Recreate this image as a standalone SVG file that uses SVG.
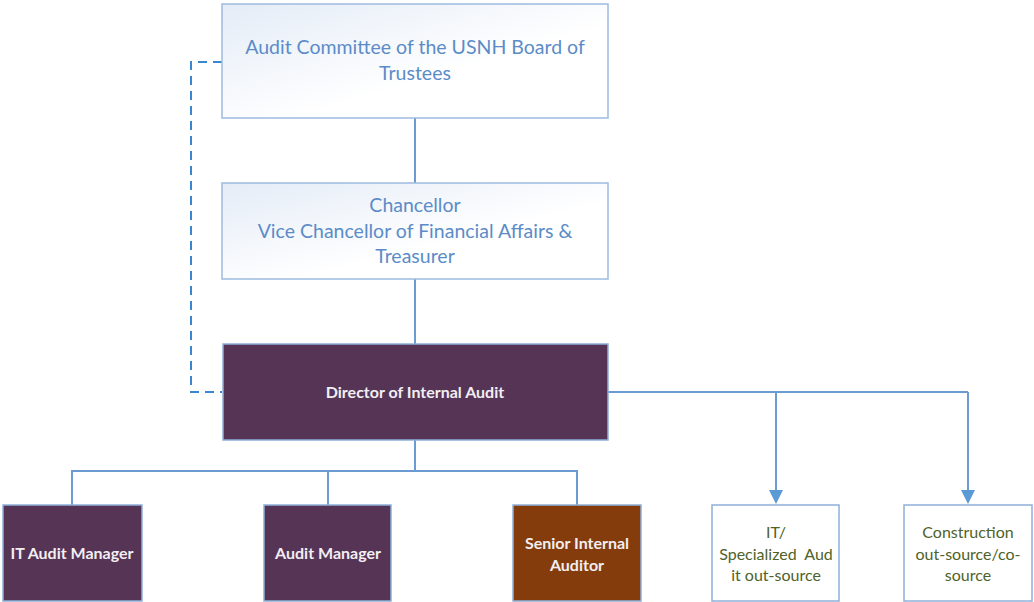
<svg xmlns="http://www.w3.org/2000/svg" width="1034" height="602" viewBox="0 0 1034 602">
  <style>
    .top { stroke: #9DBBE0; stroke-width: 1.5; fill: url(#paleFill); }
    .dark { fill: #553456; stroke: #8FB0DA; stroke-width: 1.5; }
    .brown { fill: #843C0C; stroke: #8FB0DA; stroke-width: 1.5; }
    .plain { fill: #FFFFFF; stroke: #8FB0DA; stroke-width: 1.5; }
    .tBlue { font-family: Lato, "Liberation Sans", sans-serif; font-size: 19.5px; fill: #5B8CC8; text-anchor: middle; }
    .tWhite { font-family: Lato, "Liberation Sans", sans-serif; font-size: 16px; font-weight: bold; fill: #F2EEF2; text-anchor: middle; }
    .tGreen { font-family: Lato, "Liberation Sans", sans-serif; font-size: 16px; fill: #4F6228; text-anchor: middle; }
    .link { fill: none; stroke: #6A9BD3; stroke-width: 2; }
    .dash { fill: none; stroke: #3A86D0; stroke-width: 2; stroke-dasharray: 9 6; }
    .head { fill: #5B9BD5; }
  </style>
  <defs>
    <linearGradient id="paleFill" x1="0" y1="0" x2="1" y2="1">
      <stop offset="0" stop-color="#E4ECF7"/>
      <stop offset="0.6" stop-color="#FFFFFF"/>
      <stop offset="1" stop-color="#FFFFFF"/>
    </linearGradient>
  </defs>

  <g id="connectors">
    <line class="link" x1="415" y1="118" x2="415" y2="183"/>
    <line class="link" x1="415" y1="279" x2="415" y2="344"/>
    <polyline class="dash" points="222,62 191,62 191,392 222,392"/>
    <polyline class="link" points="415,440 415,471 72,471 72,505"/>
    <polyline class="link" points="415,471 577,471 577,505"/>
    <line class="link" x1="328" y1="471" x2="328" y2="505"/>
    <polyline class="link" points="608,392 968,392"/>
    <line class="link" x1="776" y1="392" x2="776" y2="492"/>
    <line class="link" x1="968" y1="392" x2="968" y2="492"/>
    <path class="head" d="M769,490 L783,490 L776,504 Z"/>
    <path class="head" d="M961,490 L975,490 L968,504 Z"/>
  </g>

  <g id="audit-committee">
    <rect class="top" x="222" y="4" width="386" height="114"/>
    <text class="tBlue" x="415" y="54">Audit Committee of the USNH Board of</text>
    <text class="tBlue" x="415" y="80">Trustees</text>
  </g>

  <g id="chancellor">
    <rect class="top" x="222" y="183" width="386" height="96"/>
    <text class="tBlue" x="415" y="212">Chancellor</text>
    <text class="tBlue" x="415" y="238">Vice Chancellor of Financial Affairs &amp;</text>
    <text class="tBlue" x="415" y="263">Treasurer</text>
  </g>

  <g id="director">
    <rect class="dark" x="223" y="344" width="385" height="96"/>
    <text class="tWhite" x="415" y="398">Director of Internal Audit</text>
  </g>

  <g id="it-audit-manager">
    <rect class="dark" x="3" y="505" width="139" height="96"/>
    <text class="tWhite" x="72" y="559">IT Audit Manager</text>
  </g>

  <g id="audit-manager">
    <rect class="dark" x="264" y="505" width="127" height="96"/>
    <text class="tWhite" x="328" y="559">Audit Manager</text>
  </g>

  <g id="senior-internal-auditor">
    <rect class="brown" x="513" y="505" width="128" height="96"/>
    <text class="tWhite" x="577" y="549">Senior Internal</text>
    <text class="tWhite" x="577" y="571">Auditor</text>
  </g>

  <g id="it-specialized">
    <rect class="plain" x="712" y="505" width="127" height="96"/>
    <text class="tGreen" x="776" y="538">IT/</text>
    <text class="tGreen" x="776" y="560" xml:space="preserve">Specialized  Aud</text>
    <text class="tGreen" x="776" y="581">it out-source</text>
  </g>

  <g id="construction">
    <rect class="plain" x="904" y="505" width="128" height="96"/>
    <text class="tGreen" x="968" y="538">Construction</text>
    <text class="tGreen" x="968" y="560">out-source/co-</text>
    <text class="tGreen" x="968" y="581">source</text>
  </g>
</svg>
